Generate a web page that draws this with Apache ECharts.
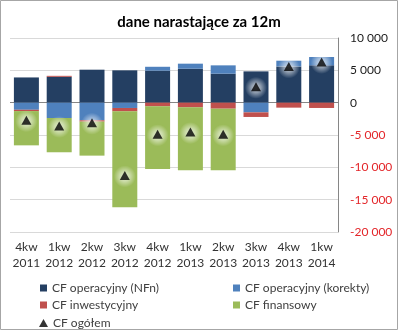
<!DOCTYPE html>
<html>
<head>
<meta charset="utf-8">
<script src="https://cdn.jsdelivr.net/npm/echarts@6/dist/echarts.min.js"></script>
<style>
  html, body { margin: 0; padding: 0; background: #fff; }
  #chart { width: 398px; height: 330px; }
</style>
</head>
<body>
<div id="chart"></div>
<script>
// Quarterly periods (trailing 12 months)
const categories = ['4kw\n2011', '1kw\n2012', '2kw\n2012', '3kw\n2012', '4kw\n2012',
                    '1kw\n2013', '2kw\n2013', '3kw\n2013', '4kw\n2013', '1kw\n2014'];

// Cash-flow components
const cfOperNfn     = [3900, 4000, 5100, 5000, 4950, 5250, 4480, 4840, 5610, 5770];
const cfOperKorekty = [-1100, -2370, -2730, -820, 600, 780, 1290, -1500, 880, 1290];
const cfInwest      = [-200, 150, -200, -520, -570, -720, -930, -710, -770, -820];
const cfFinans      = [-5300, -5300, -5260, -14840, -9680, -9740, -9530, 0, 0, 0];
const cfOgolem      = [-2700, -3600, -3100, -11250, -4900, -4550, -4900, 2450, 5600, 6300];

// Value axis ticks
const yMin = -20000, yMax = 10000, yStep = 5000;

const FONT = 'Lato, "Open Sans", sans-serif';

function fmtThousands(v) {
  const s = Math.abs(v).toString().replace(/\B(?=(\d{3})+(?!\d))/g, ' ');
  return (v < 0 ? '-' : '') + s;
}

const chart = echarts.init(document.getElementById('chart'));

const gridColors = [];
for (let v = yMin; v <= yMax; v += yStep) gridColors.push(v === 0 ? '#868686' : '#d9d9d9');

const legendText = { color: '#404040', fontSize: 12, fontFamily: FONT };
function legendAt(name, left, centerY, icon) {
  return {
    data: [{ name: name, icon: icon || 'rect' }],
    left: left, top: centerY - 7,
    itemWidth: icon === 'triangle' ? 9 : 7,
    itemHeight: icon === 'triangle' ? 8 : 7,
    itemGap: 0,
    textStyle: Object.assign({ lineHeight: 14 }, legendText),
    selectedMode: false
  };
}

const barBase = { type: 'bar', stack: 'cf', barWidth: 25, animation: false };

// soft halo painted behind each total marker
const glowFill = {
  type: 'radial', x: 0.5, y: 0.5, r: 0.5,
  colorStops: [
    { offset: 0, color: 'rgba(255,255,255,0.95)' },
    { offset: 0.45, color: 'rgba(255,255,255,0.6)' },
    { offset: 1, color: 'rgba(255,255,255,0)' }
  ]
};

chart.setOption({
  backgroundColor: '#ffffff',
  animation: false,
  title: {
    text: 'dane narastające za 12m',
    left: 'center', top: 10,
    textStyle: { fontSize: 15, fontWeight: 'bold', color: '#000', fontFamily: FONT }
  },
  graphic: [{
    type: 'rect', z: 100, silent: true,
    shape: { x: 0.5, y: 0.5, width: 397, height: 329 },
    style: { fill: 'none', stroke: '#a6a6a6', lineWidth: 1 }
  }],
  grid: { left: 10, right: 60, top: 38, bottom: 98 },
  legend: [
    legendAt('CF operacyjny (NFn)', 35, 283),
    legendAt('CF operacyjny (korekty)', 228, 283),
    legendAt('CF inwestycyjny', 35, 300),
    legendAt('CF finansowy', 228, 300),
    legendAt('CF ogółem', 34, 318, 'triangle')
  ],
  xAxis: {
    type: 'category',
    data: categories,
    axisLine: { show: false, onZero: false },
    axisTick: { show: false },
    axisLabel: {
      interval: 0, margin: 7,
      color: '#333', fontSize: 12, lineHeight: 16, fontFamily: FONT
    }
  },
  yAxis: {
    type: 'value',
    position: 'right',
    min: yMin, max: yMax, interval: yStep,
    axisLine: { show: true, lineStyle: { color: '#868686' } },
    axisTick: { show: false },
    splitLine: { show: true, lineStyle: { color: gridColors, width: 1 } },
    axisLabel: {
      margin: 12,
      fontSize: 12, fontFamily: FONT,
      formatter: function (v) {
        return v < 0 ? '{neg|' + fmtThousands(v) + '}' : '{pos|' + fmtThousands(v) + '}';
      },
      rich: {
        neg: { color: '#e3262a', fontSize: 12, fontFamily: FONT },
        pos: { color: '#1a1a1a', fontSize: 12, fontFamily: FONT }
      }
    }
  },
  series: [
    Object.assign({}, barBase, { name: 'CF operacyjny (NFn)', data: cfOperNfn, itemStyle: { color: '#243f62' } }),
    Object.assign({}, barBase, { name: 'CF operacyjny (korekty)', data: cfOperKorekty, itemStyle: { color: '#4f81bd' } }),
    Object.assign({}, barBase, { name: 'CF inwestycyjny', data: cfInwest, itemStyle: { color: '#c0504d' } }),
    Object.assign({}, barBase, { name: 'CF finansowy', data: cfFinans, itemStyle: { color: '#9bbb59' } }),
    {
      name: 'glow',
      type: 'scatter',
      data: cfOgolem,
      symbol: 'circle',
      symbolSize: 22,
      symbolOffset: [0, 1],
      silent: true,
      z: 9,
      itemStyle: { color: glowFill }
    },
    {
      name: 'CF ogółem',
      type: 'scatter',
      data: cfOgolem,
      symbol: 'triangle',
      symbolSize: [10, 9],
      z: 10,
      itemStyle: { color: '#000' }
    }
  ]
});
</script>
</body>
</html>
